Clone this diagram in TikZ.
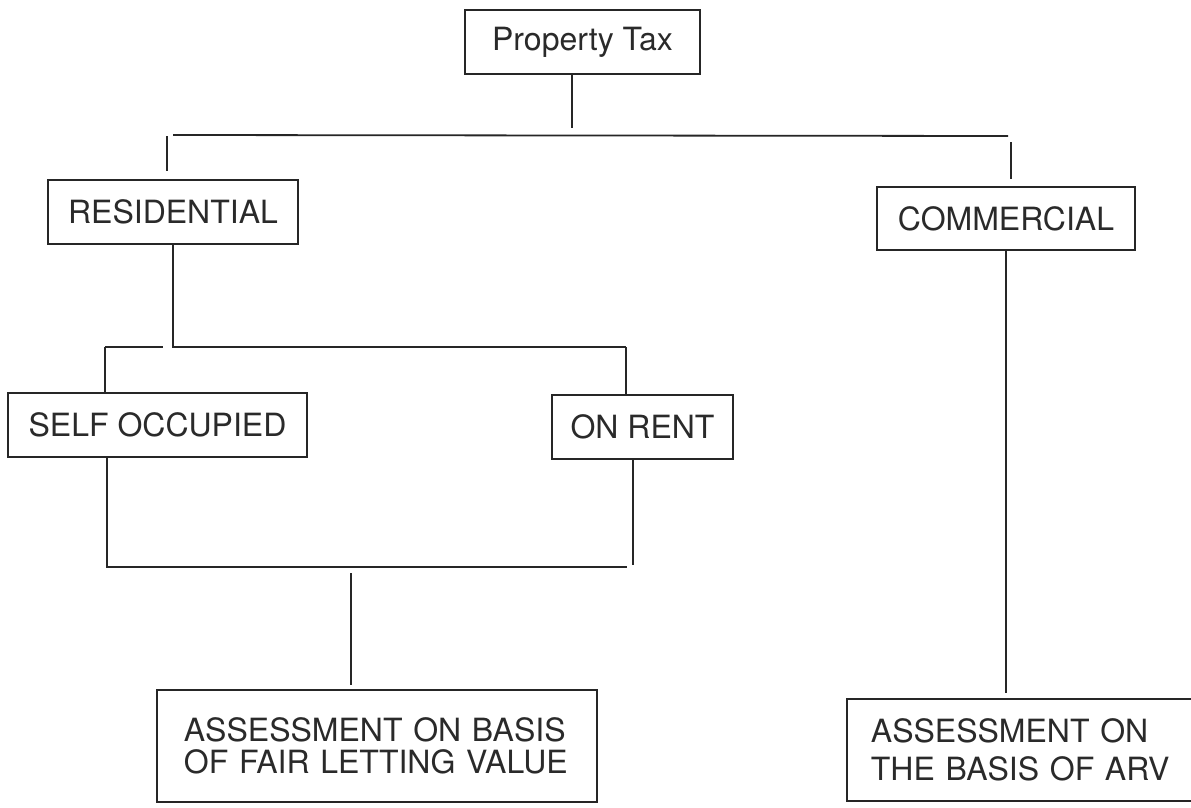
\documentclass[tikz,border=0pt]{standalone}
\usepackage{fontspec}
\setmainfont{TeX Gyre Heros}
\definecolor{linec}{HTML}{262626}
\definecolor{txtc}{HTML}{2A2A2A}
\begin{document}
\begin{tikzpicture}[x=1pt,y=-1pt,
  box/.style={draw=linec, line width=1.8pt, inner sep=0pt, text=txtc, font=\fontsize{32}{38}\selectfont},
  conn/.style={draw=linec, line width=1.8pt}]
\useasboundingbox[fill=white] (0,0) rectangle (1191,808);

\node[box, minimum width=235pt, minimum height=64pt] (pt) at (582.5,42) {Property Tax};
\node[box, minimum width=250pt, minimum height=64pt] (res) at (173,212) {RESIDENTIAL};
\node[box, minimum width=258pt, minimum height=63pt] (com) at (1006,218.5) {COMMERCIAL};
\node[box, minimum width=299pt, minimum height=64pt] (so) at (157.5,425) {SELF OCCUPIED};
\node[box, minimum width=181pt, minimum height=64pt] (rent) at (642.5,427) {ON RENT};
\node[box, anchor=north west, text width=386pt, inner xsep=27pt, minimum height=112pt, align=left, font=\fontsize{32}{32}\selectfont] (flv) at (156,689) {ASSESSMENT ON BASIS\\OF FAIR LETTING VALUE};
\node[box, anchor=north west, text width=310pt, inner xsep=24pt, minimum height=102pt, align=left, font=\fontsize{32}{38}\selectfont] (arv) at (846,698) {ASSESSMENT ON\\THE BASIS OF ARV};

% top level
\coordinate (ptj) at (572,128);
\draw[conn] (pt.south -| ptj) -- (ptj);
\coordinate (busL) at (173,135);
\coordinate (busR) at (1008,136);
\draw[conn] (busL) -- (busR);
\coordinate (resTop) at (167,136);
\draw[conn, shorten >=8pt] (resTop) -- (resTop |- res.north);
\coordinate (comTop) at (1011,142);
\draw[conn, shorten >=7pt] (comTop) -- (comTop |- com.north);

% residential split
\coordinate (mbusL) at (105,347);
\coordinate (mgap) at (163,347);
\coordinate (mbusR) at (626,347);
\draw[conn] (res.south) -- (res.south |- mbusR) -- (mbusR);
\draw[conn] (mbusL) -- (mgap);
\draw[conn] (mbusL) -- (mbusL |- so.north);
\draw[conn] (mbusR) -- (mbusR |- rent.north);

% merge
\coordinate (bbusL) at (107,567);
\coordinate (bbusE) at (627,567);
\coordinate (rentD) at (633,565);
\draw[conn] (so.south -| bbusL) -- (bbusL) -- (bbusE);
\draw[conn] (rent.south -| rentD) -- (rentD);
\coordinate (fj) at (351,573);
\draw[conn, shorten >=4pt] (fj) -- (fj |- flv.north);

% commercial
\draw[conn, shorten >=5pt] (com.south) -- (com.south |- arv.north);
\end{tikzpicture}
\end{document}
